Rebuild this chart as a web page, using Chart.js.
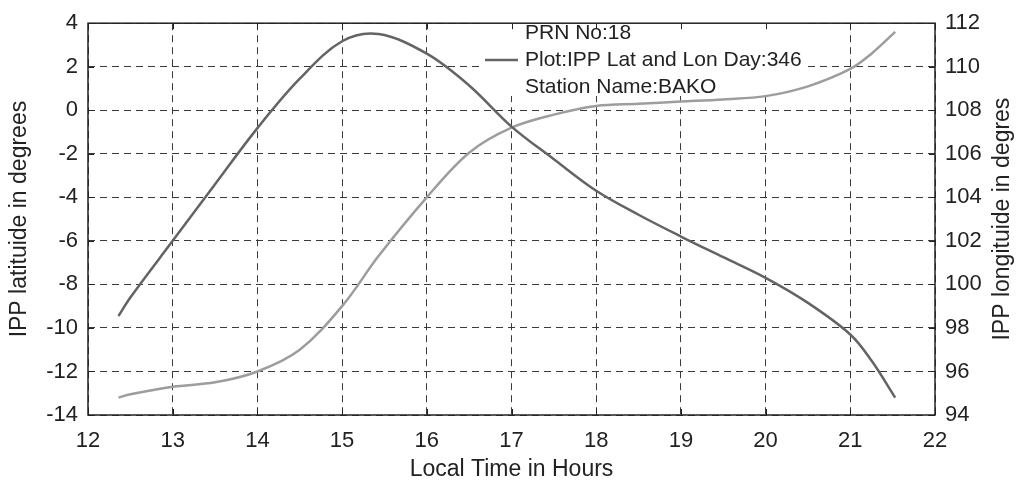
<!DOCTYPE html>
<html>
<head>
<meta charset="utf-8">
<script src="https://cdn.jsdelivr.net/npm/chart.js@4/dist/chart.umd.min.js"></script>
<style>
html,body{margin:0;padding:0;background:#fff;}
#wrap{width:1023px;height:484px;position:relative;}
</style>
</head>
<body>
<div id="wrap"><canvas id="c" width="1023" height="484"></canvas></div>
<script>
// Local time (hours)
const hours = [12.36, 12.5, 13, 13.5, 14, 14.5, 15, 15.43, 16, 16.5, 17, 17.5, 18, 18.5, 19, 19.5, 20, 20.5, 21, 21.25, 21.53];
// IPP latitude (degrees) - left axis
const latitude = [-9.45, -8.6, -6.0, -3.4, -0.82, 1.45, 3.17, 3.5, 2.6, 1.14, -0.75, -2.25, -3.7, -4.8, -5.8, -6.75, -7.7, -8.85, -10.3, -11.5, -13.2];
// IPP longitude (degrees) - right axis
const longitude = [94.8, 94.95, 95.3, 95.5, 96.0, 97.0, 99.0, 101.3, 104.0, 106.05, 107.2, 107.8, 108.2, 108.3, 108.4, 108.5, 108.65, 109.1, 109.9, 110.6, 111.6];
const xTicks = [12, 13, 14, 15, 16, 17, 18, 19, 20, 21, 22];
const latTicks = [-14, -12, -10, -8, -6, -4, -2, 0, 2, 4];
const lonTicks = [94, 96, 98, 100, 102, 104, 106, 108, 110, 112];
const legendLines = ["PRN No:18", "Plot:IPP Lat and Lon Day:346", "Station Name:BAKO"];
const leftTitle = "IPP latituide in degrees";
const rightTitle = "IPP longituide in degres";
const bottomTitle = "Local Time in Hours";

const FONT = "'Liberation Sans', Arial, sans-serif";
const LAT_COLOR = '#646464';
const LON_COLOR = '#9d9d9d';

const latData = hours.map((h, i) => ({x: h, y: latitude[i]}));
const lonData = hours.map((h, i) => ({x: h, y: longitude[i]}));

const framePlugin = {
  id: 'frame',
  beforeDatasetsDraw(chart) {
    const ctx = chart.ctx;
    ctx.save();
    ctx.fillStyle = '#fff';
    ctx.fillRect(483, 23, 322, 73);
    ctx.strokeStyle = LAT_COLOR;
    ctx.lineWidth = 2.5;
    ctx.beginPath();
    ctx.moveTo(485, 60);
    ctx.lineTo(518, 60);
    ctx.stroke();
    ctx.fillStyle = '#222';
    ctx.font = '21px ' + FONT;
    ctx.textBaseline = 'middle';
    ctx.textAlign = 'left';
    ctx.fillText(legendLines[0], 525, 33);
    ctx.fillText(legendLines[1], 525, 60);
    ctx.fillText(legendLines[2], 525, 87);
    ctx.restore();
  },
  afterDraw(chart) {
    const ctx = chart.ctx;
    const a = chart.chartArea;
    const xs = chart.scales.x, ys = chart.scales.y;
    ctx.save();
    ctx.strokeStyle = '#222';
    ctx.lineWidth = 1.5;
    ctx.strokeRect(a.left, a.top, a.right - a.left, a.bottom - a.top);
    ctx.lineWidth = 1;
    ctx.beginPath();
    const tl = 6;
    xTicks.forEach(v => {
      const px = Math.round(xs.getPixelForValue(v)) + 0.5;
      ctx.moveTo(px, a.bottom); ctx.lineTo(px, a.bottom - tl);
      ctx.moveTo(px, a.top); ctx.lineTo(px, a.top + tl);
    });
    latTicks.forEach(v => {
      const py = Math.round(ys.getPixelForValue(v)) + 0.5;
      ctx.moveTo(a.left, py); ctx.lineTo(a.left + tl, py);
      ctx.moveTo(a.right, py); ctx.lineTo(a.right - tl, py);
    });
    ctx.stroke();
    ctx.translate(1003, (a.top + a.bottom) / 2);
    ctx.rotate(-Math.PI / 2);
    ctx.fillStyle = '#222';
    ctx.font = '23px ' + FONT;
    ctx.textAlign = 'center';
    ctx.textBaseline = 'middle';
    ctx.fillText(rightTitle, 0, 0);
    ctx.restore();
  }
};

new Chart(document.getElementById('c'), {
  type: 'line',
  data: {
    datasets: [
      {label: 'lat', data: latData, yAxisID: 'y', borderColor: LAT_COLOR, borderWidth: 2.5, pointRadius: 0, tension: 0.35, fill: false},
      {label: 'lon', data: lonData, yAxisID: 'y2', borderColor: LON_COLOR, borderWidth: 2.5, pointRadius: 0, tension: 0.35, fill: false}
    ]
  },
  options: {
    responsive: false,
    animation: false,
    devicePixelRatio: 1,
    layout: {padding: {top: 19, left: 0, right: 0, bottom: 0}},
    plugins: {legend: {display: false}, tooltip: {enabled: false}},
    scales: {
      x: {
        type: 'linear', min: 12, max: 22,
        afterBuildTicks: s => { s.ticks = xTicks.map(v => ({value: v})); },
        afterFit: s => { s.height = 69; },
        ticks: {font: {size: 22, family: FONT}, color: '#222', padding: 13, maxRotation: 0, autoSkip: false},
        grid: {color: '#3a3a3a', lineWidth: 1, drawTicks: false},
        border: {display: false, dash: [7, 5]},
        title: {display: true, text: bottomTitle, font: {size: 23, family: FONT}, color: '#222', padding: {top: 0, bottom: 1}}
      },
      y: {
        type: 'linear', position: 'left', min: -14, max: 4,
        afterBuildTicks: s => { s.ticks = latTicks.map(v => ({value: v})); },
        afterFit: s => { s.width = 88; },
        ticks: {font: {size: 22, family: FONT}, color: '#222', padding: 10, autoSkip: false},
        grid: {color: '#3a3a3a', lineWidth: 1, drawTicks: false},
        border: {display: false, dash: [7, 5]},
        title: {display: true, text: leftTitle, font: {size: 23, family: FONT}, color: '#222', padding: {top: 6, bottom: 0}}
      },
      y2: {
        type: 'linear', position: 'right', min: 94, max: 112,
        afterBuildTicks: s => { s.ticks = lonTicks.map(v => ({value: v})); },
        afterFit: s => { s.width = 88; },
        ticks: {font: {size: 22, family: FONT}, color: '#222', padding: 10, autoSkip: false},
        grid: {drawOnChartArea: false, drawTicks: false},
        border: {display: false}
      }
    }
  },
  plugins: [framePlugin]
});
</script>
</body>
</html>
